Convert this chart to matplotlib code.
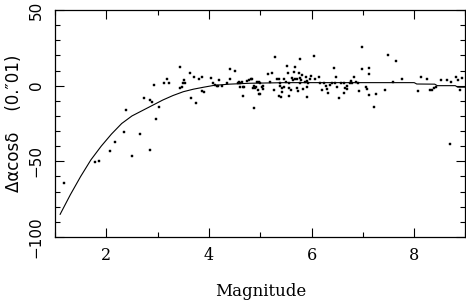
import matplotlib
matplotlib.use("Agg")
import matplotlib.pyplot as plt
from matplotlib.ticker import MultipleLocator

# scatter data: magnitude and Δα cos δ (units of 0.01")
mag = [1.18, 1.77, 1.86, 2.08, 2.16, 2.35, 2.51, 2.39, 2.65, 2.85, 2.74, 2.85, 2.89, 2.92,
       3.02, 2.97, 3.13, 3.19, 3.23, 3.43, 3.44, 3.47, 3.50, 3.54, 3.51, 3.63, 3.70, 3.80,
       3.87, 3.87, 3.91, 3.66, 3.74, 4.04, 4.08, 4.12, 4.17, 4.20,
       4.15, 4.25, 4.35, 4.41, 4.51, 4.42, 4.56, 4.58, 4.61, 4.64, 4.66, 4.61, 4.69, 4.67,
       4.74, 4.79, 4.84, 4.87, 4.92, 4.97, 4.98,
       4.81, 4.88, 4.86, 4.90, 4.95, 4.94, 4.99, 4.99, 5.03, 5.06, 5.05, 5.16, 5.23, 5.19,
       5.29, 5.27, 5.33, 5.36, 5.38, 5.39, 5.36, 5.40, 5.42, 5.42, 5.46, 5.47, 5.51, 5.52,
       5.55, 5.57, 5.57, 5.57, 5.59, 5.62, 5.64, 5.65, 5.67, 5.68, 5.72, 5.72, 5.73, 5.75,
       5.77, 5.77, 5.78, 5.79, 5.81, 5.83, 5.88, 5.90, 5.91, 5.91, 5.92, 5.94, 5.96, 5.99,
       6.04, 6.07, 6.14, 6.17, 6.20, 6.25, 6.29, 6.31, 6.33, 6.35, 6.40, 6.44, 6.46, 6.48,
       6.50, 6.53, 6.57, 6.63, 6.64, 6.66, 6.69, 6.70, 6.74, 6.76, 6.79, 6.83, 6.87, 6.90,
       6.92, 6.98, 6.98, 7.06, 7.08, 7.11, 7.11, 7.11, 7.21, 7.26, 7.44, 7.49, 7.58, 7.65,
       7.76, 8.07, 8.13, 8.25, 8.30, 8.35, 8.38, 8.42, 8.53, 8.64, 8.71, 8.81, 8.85, 8.89,
       8.93, 8.69]
dacosd = [-64.0, -50.6, -49.8, -43.4, -37.2, -30.8, -46.5, -16.3, -32.2, -42.7, -8.4, -9.7, -11.0, 0.2,
          -14.3, -22.2, 2.0, 4.2, 1.6, 12.1, -1.3, -0.7, 1.6, 2.0, 3.5, 8.2, 5.5, 4.2,
          5.7, -3.5, -4.0, -8.2, -11.7, 5.3, 1.8, 0.7, -0.4, 3.5,
          -0.2, -0.2, 2.0, 11.0, 9.7, 4.2, 2.0, 2.6, 1.6, 2.6, -0.7, -0.7, -0.7, -6.8,
          3.3, 3.7, 4.2, -0.2, -0.7, 2.6, -5.7,
          4.2, -15.0, -1.8, -1.8, -2.9, 2.6, 2.0, -5.5, -1.1, -0.2, -2.4, 7.7, 8.6, 2.6,
          18.7, -2.9, 4.2, 4.2, 2.0, -0.2, -6.8, -7.7, -1.8, -4.0, -1.1, 4.2, 2.6, 13.0,
          8.1, 2.0, -1.8, -6.8, -2.9, 4.8, 3.7, 9.2, 12.5, 4.2, 4.2, -1.8, -3.3, 8.6,
          17.4, 4.8, 2.0, 3.7, 7.0, -2.4, 2.6, 5.5, 3.3, -1.1, -7.7, 2.0, 4.2, 6.4,
          19.6, 4.2, 5.9, 2.0, -2.9, 1.5, -0.2, -2.4, -4.6, 0.4, 2.0, 11.4, 2.0, 5.9,
          -0.7, -8.4, 2.0, 1.5, -4.6, -1.8, -2.4, -0.2, 2.0, 3.3, 1.5, 5.9, 2.6, 2.0,
          -3.3, 25.3, 10.8, -0.7, -2.4, 11.4, 7.7, -6.2, -14.3, -5.7, -2.9, 20.3, 2.2, 16.5,
          4.2, -3.5, 5.5, 4.2, -2.9, -2.9, -1.8, -0.7, 3.7, 3.7, 2.6, 5.9, 3.7, -2.9,
          4.8, -38.8]

# fitted curve
curve_mag = [1.10, 1.30, 1.50, 1.70, 1.90, 2.10, 2.30, 2.50, 2.70, 2.90, 3.10, 3.30, 3.50,
             3.70, 3.90, 4.10, 4.40, 4.80, 5.50, 8.00, 8.05, 8.40, 8.45, 8.80, 8.85, 9.00]
curve_val = [-85.0, -72.0, -60.0, -49.0, -40.0, -32.0, -25.0, -20.0, -16.5, -13.0, -9.5, -6.5, -4.0,
             -2.3, -1.0, 0.2, 1.0, 1.6, 2.0, 2.0, 1.1, 1.0, 0.0, 0.0, -1.0, -1.0]

xticks = [2, 4, 6, 8]
yticks = [-100, -50, 0, 50]

fig = plt.figure(figsize=(4.66, 3.02), dpi=100)
ax = fig.add_axes([55/466, 1-237/302, 410.5/466, 227/302])

ax.plot(curve_mag, curve_val, color="black", lw=0.8)
ax.plot(mag, dacosd, linestyle="none", marker="s", markersize=2.0,
        markerfacecolor="black", markeredgecolor="black", markeredgewidth=0.3)

ax.set_xlim(1, 9)
ax.set_ylim(-100, 50)
ax.set_xticks(xticks)
ax.set_yticks(yticks)
ax.xaxis.set_minor_locator(MultipleLocator(1))
ax.yaxis.set_minor_locator(MultipleLocator(10))
ax.tick_params(which="both", direction="in", top=True, right=True, width=0.8, color="black")
ax.tick_params(which="major", length=6.5)
ax.tick_params(which="minor", length=3.6)
ax.tick_params(axis="x", which="major", pad=7)
ax.tick_params(axis="y", which="major", pad=8)
for s in ax.spines.values():
    s.set_linewidth(0.9)

for lab in ax.get_xticklabels():
    lab.set_fontfamily("DejaVu Serif")
    lab.set_fontsize(11.5)
for lab in ax.get_yticklabels():
    lab.set_fontfamily("DejaVu Sans")
    lab.set_fontsize(11)
    lab.set_rotation(90)
    lab.set_va("center")

ax.set_xlabel("Magnitude", fontsize=12, family="DejaVu Serif", labelpad=14)
ax.set_ylabel("Δαcosδ    (0.″01)", fontsize=12, family="DejaVu Sans", labelpad=4)

fig.savefig("out.png", dpi=100)
